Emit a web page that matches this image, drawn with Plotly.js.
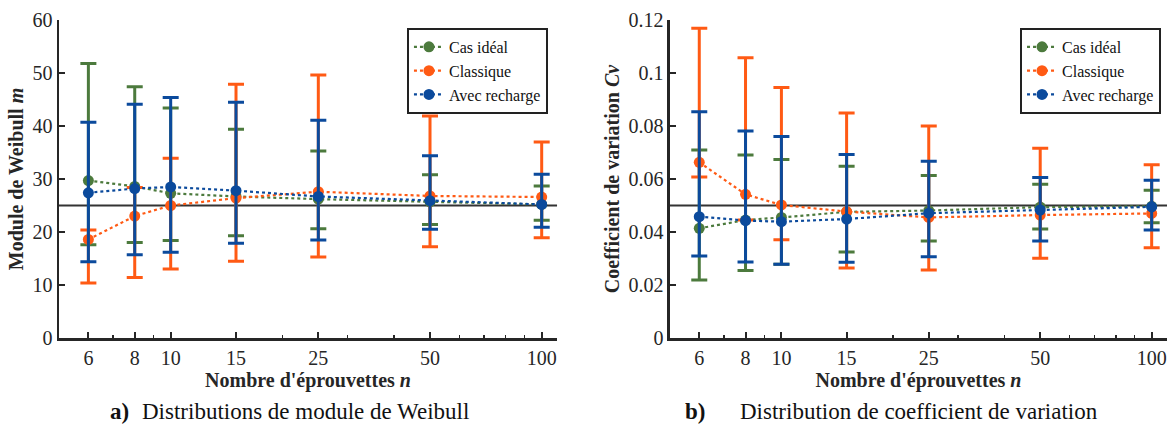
<!DOCTYPE html>
<html>
<head>
<meta charset="utf-8">
<script src="https://cdn.plot.ly/plotly-3.0.1.min.js"></script>
<style>html,body{margin:0;padding:0;background:#fff;}#chart{width:1172px;height:430px;}</style>
</head>
<body>
<div id="chart"></div>
<script>
// Sample sizes (x axis, log scale)
const nVals = [6, 8, 10, 15, 25, 50, 100];
const nTickText = ["6", "8", "10", "15", "25", "50", "100"];
const minorTicks = [7, 9, 20, 30, 40, 60, 70, 80, 90];
const seriesNames = ["Cas idéal", "Classique", "Avec recharge"];

// (a) Weibull modulus m
const idealM     = [29.7, 28.6, 27.3, 26.7, 26.2, 25.7, 25.2];
const idealMHi   = [51.8, 47.4, 43.4, 39.4, 35.3, 30.8, 28.7];
const idealMLo   = [17.6, 18.0, 18.4, 19.3, 20.6, 21.4, 22.2];
const classicM   = [18.6, 23.0, 25.0, 26.4, 27.6, 26.8, 26.6];
const classicMHi = [20.4, 28.4, 33.9, 47.9, 49.6, 41.9, 37.0];
const classicMLo = [10.4, 11.4, 13.0, 14.5, 15.3, 17.2, 18.9];
const rechargeM   = [27.4, 28.2, 28.5, 27.8, 26.7, 25.9, 25.2];
const rechargeMHi = [40.7, 44.1, 45.4, 44.5, 41.1, 34.4, 30.9];
const rechargeMLo = [14.4, 15.7, 16.2, 17.9, 18.5, 20.5, 20.9];
const refM = 25;

// (b) Coefficient of variation Cv
const idealCv     = [0.0414, 0.0445, 0.0455, 0.0476, 0.0481, 0.0494, 0.0497];
const idealCvHi   = [0.0709, 0.0691, 0.0674, 0.0648, 0.0613, 0.0580, 0.0558];
const idealCvLo   = [0.0219, 0.0255, 0.0278, 0.0325, 0.0366, 0.0411, 0.0435];
const classicCv   = [0.0663, 0.0542, 0.0502, 0.0477, 0.0455, 0.0464, 0.0470];
const classicCvHi = [0.1169, 0.1058, 0.0945, 0.0849, 0.0800, 0.0716, 0.0654];
const classicCvLo = [0.0608, 0.0445, 0.0371, 0.0264, 0.0257, 0.0301, 0.0341];
const rechargeCv   = [0.0458, 0.0443, 0.0439, 0.0449, 0.0471, 0.0483, 0.0495];
const rechargeCvHi = [0.0854, 0.0781, 0.0760, 0.0692, 0.0667, 0.0606, 0.0595];
const rechargeCvLo = [0.0309, 0.0287, 0.0278, 0.0286, 0.0307, 0.0366, 0.0408];
const refCv = 0.05;

const colors = ["#4c7a3d", "#ff5a14", "#0b4a9c"];
const FONT = "Liberation Serif";

function mk(name, color, y, hi, lo, xa, ya, leg) {
  return {
    x: nVals, y: y, name: name, type: "scatter", mode: "lines+markers",
    xaxis: xa, yaxis: ya, legend: leg, showlegend: true,
    line: {color: color, width: 2.2, dash: "dot"},
    marker: {color: color, size: 11, symbol: "circle"},
    error_y: {
      type: "data", symmetric: false,
      array: hi.map((h, i) => h - y[i]),
      arrayminus: lo.map((l, i) => y[i] - l),
      color: color, thickness: 3, width: 8
    }
  };
}

const data = [
  mk(seriesNames[0], colors[0], idealM, idealMHi, idealMLo, "x", "y", "legend"),
  mk(seriesNames[1], colors[1], classicM, classicMHi, classicMLo, "x", "y", "legend"),
  mk(seriesNames[2], colors[2], rechargeM, rechargeMHi, rechargeMLo, "x", "y", "legend"),
  mk(seriesNames[0], colors[0], idealCv, idealCvHi, idealCvLo, "x2", "y2", "legend2"),
  mk(seriesNames[1], colors[1], classicCv, classicCvHi, classicCvLo, "x2", "y2", "legend2"),
  mk(seriesNames[2], colors[2], rechargeCv, rechargeCvHi, rechargeCvLo, "x2", "y2", "legend2")
];

const axColor = "#262626";
function xax(domain, anchor) {
  return {
    domain: domain, anchor: anchor, type: "log",
    range: [Math.log10(5), Math.log10(110)],
    tickmode: "array", tickvals: nVals, ticktext: nTickText,
    ticks: "inside", ticklen: 6, tickwidth: 2, tickcolor: axColor,
    minor: {tickmode: "array", tickvals: minorTicks, ticks: "inside", ticklen: 3, tickwidth: 1.5, tickcolor: axColor, showgrid: false},
    showline: true, linecolor: axColor, linewidth: 2.5, mirror: false,
    showgrid: false, zeroline: false,
    tickfont: {family: FONT, size: 20, color: axColor},
    title: {text: "<b>Nombre d'éprouvettes <i>n</i></b>", font: {family: FONT, size: 20, color: axColor}, standoff: 2}
  };
}
function yax(range, dtick, title, anchor) {
  return {
    domain: [0, 1], anchor: anchor, range: range, dtick: dtick, tick0: 0,
    ticks: "inside", ticklen: 6, tickwidth: 2, tickcolor: axColor,
    showline: true, linecolor: axColor, linewidth: 2.5, mirror: false,
    showgrid: false, zeroline: false,
    tickfont: {family: FONT, size: 20, color: axColor},
    title: {text: title, font: {family: FONT, size: 20, color: axColor}, standoff: 4}
  };
}

const legendStyle = (xr) => ({
  x: xr, xanchor: "right", y: 0.975, yanchor: "top",
  bgcolor: "#ffffff", bordercolor: "#222222", borderwidth: 2,
  font: {family: FONT, size: 16, color: "#111"},
  itemwidth: 30, tracegroupgap: 0
});

const capFont = {family: FONT, size: 23, color: "#111"};
const layout = {
  width: 1172, height: 430,
  margin: {l: 59, r: 5, t: 20, b: 92},
  paper_bgcolor: "#ffffff", plot_bgcolor: "#ffffff",
  font: {family: FONT},
  showlegend: true,
  xaxis: xax([0, 0.4495], "y"),
  yaxis: yax([0, 60], 10, "<b>Module de Weibull <i>m</i></b>", "x"),
  xaxis2: xax([0.5514, 1.0], "y2"),
  yaxis2: yax([0, 0.12], 0.02, "<b>Coefficient de variation <i>Cv</i></b>", "x2"),
  legend: legendStyle(0.4413),
  legend2: legendStyle(0.9946),
  shapes: [
    {type: "line", xref: "x domain", yref: "y", x0: 0, x1: 1, y0: refM, y1: refM, line: {color: "#333", width: 1.8}, layer: "below"},
    {type: "line", xref: "x2 domain", yref: "y2", x0: 0, x1: 1, y0: refCv, y1: refCv, line: {color: "#333", width: 1.8}, layer: "below"}
  ],
  annotations: [
    {xref: "paper", yref: "paper", x: (108 - 59) / 1108, y: -0.232, yanchor: "middle", xanchor: "left", showarrow: false,
     text: "<b>a)</b>", font: capFont},
    {xref: "paper", yref: "paper", x: (140 - 59) / 1108, y: -0.232, yanchor: "middle", xanchor: "left", showarrow: false,
     text: "Distributions de module de Weibull", font: capFont},
    {xref: "paper", yref: "paper", x: (683 - 59) / 1108, y: -0.232, yanchor: "middle", xanchor: "left", showarrow: false,
     text: "<b>b)</b>", font: capFont},
    {xref: "paper", yref: "paper", x: (738 - 59) / 1108, y: -0.232, yanchor: "middle", xanchor: "left", showarrow: false,
     text: "Distribution de coefficient de variation", font: capFont}
  ]
};

Plotly.newPlot("chart", data, layout, {displayModeBar: false, staticPlot: true});
</script>
</body>
</html>
